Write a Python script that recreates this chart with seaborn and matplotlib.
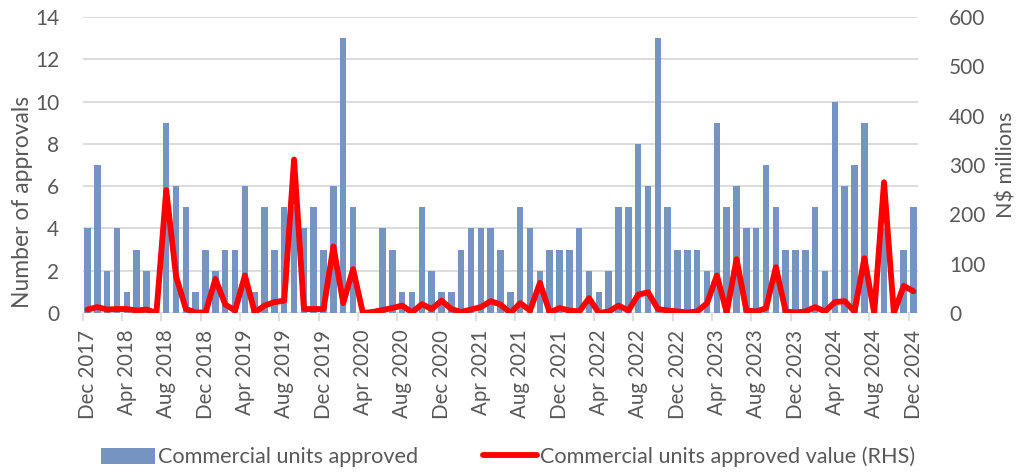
import numpy as np
import pandas as pd
import matplotlib
matplotlib.use("Agg")
import matplotlib.pyplot as plt
import seaborn as sns
from matplotlib.patches import Patch
from matplotlib.lines import Line2D

# ---- data ----
months = pd.date_range("2017-12-01", periods=85, freq="MS").strftime("%b %Y").tolist()

units_approved = [4, 7, 2, 4, 1, 3, 2, 0, 9, 6, 5, 1, 3, 2, 3, 3, 6, 1, 5, 3, 5, 5, 4, 5,
                  3, 6, 13, 5, 0, 0, 4, 3, 1, 1, 5, 2, 1, 1, 3, 4, 4, 4, 3, 1, 5, 4, 2, 3,
                  3, 3, 4, 2, 1, 2, 5, 5, 8, 6, 13, 5, 3, 3, 3, 2, 9, 5, 6, 4, 4, 7, 5, 3, 3,
                  3, 5, 2, 10, 6, 7, 9, 0, 4, 0, 3, 5]

value_approved = [7, 12, 7, 8, 8, 5, 7, 0, 249, 74, 8, 1, 1, 69, 17, 5, 76, 1, 15, 22, 25, 311, 8, 8,
                  8, 135, 20, 89, 0, 2, 6, 10, 15, 1, 18, 8, 25, 8, 2, 7, 12, 24, 17, 0, 20, 5, 61, 1,
                  10, 5, 3, 30, 0, 3, 15, 5, 37, 42, 8, 5, 3, 1, 3, 20, 76, 1, 109, 5, 3, 10, 93, 3, 1,
                  3, 12, 3, 22, 24, 3, 111, 0, 265, 0, 55, 44]

left_ticks = [0, 2, 4, 6, 8, 10, 12, 14]
right_ticks = [0, 100, 200, 300, 400, 500, 600]

bar_label = "Commercial units approved"
line_label = "Commercial units approved value (RHS)"

df = pd.DataFrame({"month": months, "units": units_approved, "value": value_approved})
df["pos"] = np.arange(len(df))

# ---- style ----
sns.set_theme(style="white")
FONT = ["Lato", "DejaVu Sans"]
plt.rcParams["font.family"] = FONT
grey_text = "#595959"
bar_color = "#7594C2"

fig = plt.figure(figsize=(10.23, 4.72), dpi=100)
ax = fig.add_axes([0.0808, 0.3369, 0.8170, 0.6271])
ax2 = ax.twinx()

sns.barplot(data=df, x="pos", y="units", ax=ax, color=bar_color, width=0.66,
            saturation=1, native_scale=True, linewidth=0, edgecolor="none", zorder=2)
sns.lineplot(data=df, x="pos", y="value", ax=ax2, color="#FF0000", linewidth=4.2,
             zorder=3)
ax2.lines[0].set_solid_capstyle("round")
ax2.lines[0].set_solid_joinstyle("round")

ax.set_xlim(-0.5, len(df) - 0.5)
ax.set_ylim(0, 14)
ax2.set_ylim(0, 600)

ax.set_yticks(left_ticks)
ax2.set_yticks(right_ticks)
ax.yaxis.grid(True, color="#D9D9D9", linewidth=1.3, zorder=0)
ax.set_axisbelow(True)
ax2.grid(False)

tick_pos = np.arange(0, len(df), 4)
ax.set_xticks(tick_pos)
ax.set_xticklabels([months[i] for i in tick_pos], rotation=90, fontsize=14.8,
                   color=grey_text)
ax.set_xticks(np.arange(-0.5, len(df), 4), minor=True)
ax.tick_params(axis="x", which="major", length=0, pad=12)
ax.tick_params(axis="x", which="minor", length=6, width=1.2, color="#D9D9D9",
               bottom=True)
ax.tick_params(axis="y", length=0, pad=17, labelsize=15, labelcolor=grey_text)
ax2.tick_params(axis="y", length=0, pad=22, labelsize=15, labelcolor=grey_text)

for a in (ax, ax2):
    for s in a.spines.values():
        s.set_visible(False)

ax.set_xlabel("")
ax.set_ylabel("Number of approvals", fontsize=16.5, color=grey_text, labelpad=1)
ax.yaxis.label.set_y(0.375)
ax2.set_ylabel("N$ millions", fontsize=15.5, color=grey_text, labelpad=8,
               rotation=90)

handles = [Patch(facecolor=bar_color, edgecolor="none"),
           Line2D([0], [0], color="#FF0000", linewidth=4.2, solid_capstyle="round")]
leg = fig.legend(handles, [bar_label, line_label], loc="center",
                 bbox_to_anchor=(0.4966, 0.032), ncol=2, frameon=False,
                 fontsize=15.6, handlelength=2.5, handleheight=0.75,
                 columnspacing=3.0, handletextpad=0.12)
for t in leg.get_texts():
    t.set_color(grey_text)

fig.savefig("out.png", dpi=100)
